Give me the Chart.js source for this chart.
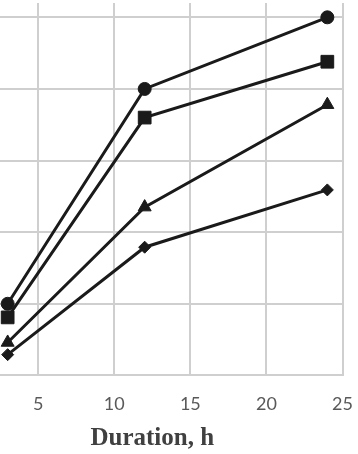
<!DOCTYPE html>
<html>
<head>
<meta charset="utf-8">
<script src="https://cdn.jsdelivr.net/npm/chart.js@4"></script>
<style>
  html, body { margin: 0; padding: 0; background: #fff; }
  #wrap { position: relative; width: 358px; height: 454px; overflow: hidden; }
  #box { position: absolute; left: -60px; top: -7px; width: 431px; height: 461px; }
</style>
</head>
<body>
<div id="wrap"><div id="box"><canvas id="grafico"></canvas></div></div>
<script>
// durations (h)
const duracao = [3, 12, 24];

// series values (gridline units)
const serieCirculo = [1.0, 4.0, 5.0];
const serieQuadrado = [0.81, 3.6, 4.38];
const serieTriangulo = [0.46, 2.35, 3.78];
const serieLosango = [0.29, 1.79, 2.59];

const ticksX = [5, 10, 15, 20, 25];
const tituloX = "Duration, h";

function montarSerie(valores, estilo, raio) {
  return {
    data: duracao.map((x, i) => ({ x: x, y: valores[i] })),
    borderColor: "#1a1a1a",
    backgroundColor: "#1a1a1a",
    borderWidth: 3,
    pointStyle: estilo,
    pointRadius: raio,
    pointHoverRadius: raio,
    pointBorderWidth: 1,
    pointBorderColor: "#1a1a1a",
    pointBackgroundColor: "#1a1a1a",
    clip: false
  };
}

const ctx = document.getElementById("grafico").getContext("2d");

new Chart(ctx, {
  type: "line",
  data: {
    datasets: [
      montarSerie(serieCirculo, "circle", 6.5),
      montarSerie(serieQuadrado, "rect", 9),
      montarSerie(serieTriangulo, "triangle", 7.5),
      montarSerie(serieLosango, "rectRot", 6)
    ]
  },
  options: {
    responsive: true,
    maintainAspectRatio: false,
    animation: false,
    layout: { padding: { left: 22, right: 0, top: 3, bottom: 0 } },
    plugins: { legend: { display: false }, tooltip: { enabled: false } },
    scales: {
      x: {
        type: "linear",
        min: 0,
        max: 25,
        afterBuildTicks: axis => {
          axis.ticks = ticksX.map(v => ({ value: v }));
        },
        grid: { color: "#cfcfcf", lineWidth: 2, drawTicks: false },
        border: { color: "#cfcfcf", width: 2 },
        ticks: {
          padding: 18,
          color: "#595959",
          font: { family: "Lato", size: 18 }
        },
        title: {
          display: true,
          text: tituloX,
          color: "#404040",
          padding: { top: -9, bottom: 0 },
          font: { family: "Liberation Serif", size: 25, weight: "bold" }
        }
      },
      y: {
        type: "linear",
        min: 0,
        max: 5.2,
        afterBuildTicks: axis => {
          axis.ticks = axis.ticks.filter(t => Number.isInteger(t.value));
        },
        ticks: { display: false, stepSize: 1 },
        grid: { color: "#cfcfcf", lineWidth: 2, drawTicks: false },
        border: { display: false }
      }
    }
  }
});
</script>
</body>
</html>
